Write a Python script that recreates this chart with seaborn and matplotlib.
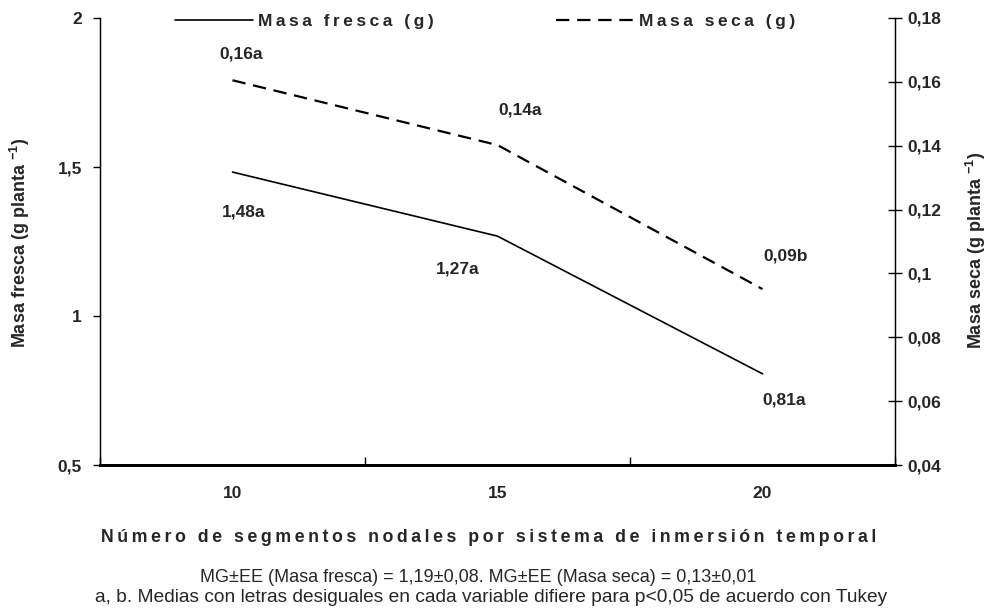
import matplotlib
matplotlib.use("Agg")
import matplotlib.pyplot as plt
import seaborn as sns
import pandas as pd
from matplotlib.ticker import FixedLocator, FuncFormatter, NullFormatter
from matplotlib.lines import Line2D

# ---- data ----
segmentos = ["10", "15", "20"]
masa_fresca = [1.483, 1.268, 0.806]
masa_seca = [0.1605, 0.1402, 0.0951]
etiquetas_fresca = ["1,48a", "1,27a", "0,81a"]
etiquetas_seca = ["0,16a", "0,14a", "0,09b"]
ticks_izq = [0.5, 1.0, 1.5, 2.0]
ticks_der = [0.04, 0.06, 0.08, 0.10, 0.12, 0.14, 0.16, 0.18]

sns.set_theme(style="white")
plt.rcParams["font.family"] = ["Liberation Sans", "DejaVu Sans"]
plt.rcParams["mathtext.fontset"] = "custom"
plt.rcParams["mathtext.rm"] = "Liberation Sans"
plt.rcParams["mathtext.bf"] = "Liberation Sans:bold"

def coma(v, pos=None):
    return ("%g" % v).replace(".", ",")

def espaciado(s):
    return "\u2009".join(s)

df = pd.DataFrame({"seg": segmentos, "fresca": masa_fresca, "seca": masa_seca})

fig = plt.figure(figsize=(9.92, 6.15), dpi=100)
ax = fig.add_axes([100/992, 1-465/615, 795/992, 447/615])
ax2 = ax.twinx()

sns.lineplot(data=df, x="seg", y="fresca", ax=ax, color="black", lw=1.2,
             sort=False)
sns.lineplot(data=df, x="seg", y="seca", ax=ax2, color="black", lw=1.6,
             sort=False, dashes=False)
ax2.lines[0].set_dashes((6, 3.5))

ax.set_xlim(-0.5, 2.5)
ax.set_ylim(0.5, 2.0)
ax2.set_ylim(0.04, 0.18)

# x ticks: marks on boundaries, labels at centres
ax.xaxis.set_major_locator(FixedLocator([-0.5, 0.5, 1.5, 2.5]))
ax.xaxis.set_major_formatter(NullFormatter())
ax.xaxis.set_minor_locator(FixedLocator([0, 1, 2]))
ax.xaxis.set_minor_formatter(FuncFormatter(lambda v, p: segmentos[int(round(v))]))
ax.tick_params(axis="x", which="major", direction="in", length=6, width=1, color="black", bottom=True)
ax.tick_params(axis="x", which="minor", length=0, pad=15, labelsize=12.5, bottom=True)
for t in ax.get_xticklabels(minor=True):
    t.set_fontweight("bold")

ax.yaxis.set_major_locator(FixedLocator(ticks_izq))
ax.yaxis.set_major_formatter(FuncFormatter(coma))
ax.tick_params(axis="y", direction="out", length=5, width=1, color="black", left=True, labelsize=12.5, pad=8)
for t in ax.get_yticklabels():
    t.set_fontweight("bold")

ax2.yaxis.set_major_locator(FixedLocator(ticks_der))
ax2.yaxis.set_major_formatter(FuncFormatter(coma))
ax2.tick_params(axis="y", direction="inout", length=10, width=1, color="black", right=True, labelsize=12.5, pad=4)
for t in ax2.get_yticklabels():
    t.set_fontweight("bold")

for a in (ax, ax2):
    a.set_xlabel("")
    a.set_ylabel("")
    for s in a.spines.values():
        s.set_color("black")
        s.set_linewidth(0.9)
    a.spines["top"].set_visible(False)
ax.spines["bottom"].set_linewidth(2.0)
ax2.spines["bottom"].set_linewidth(2.0)
ax2.grid(False)
ax.grid(False)

# data labels
off_fresca = [(11, -40), (-40, -33), (22, -26)]
off_seca = [(9, 26), (23, 35), (23, 33)]
for i, (v, lab) in enumerate(zip(masa_fresca, etiquetas_fresca)):
    ax.annotate(lab, (i, v), xytext=off_fresca[i], textcoords="offset pixels",
                ha="center", va="center", fontsize=12.5, fontweight="bold")
for i, (v, lab) in enumerate(zip(masa_seca, etiquetas_seca)):
    ax2.annotate(lab, (i, v), xytext=off_seca[i], textcoords="offset pixels",
                 ha="center", va="center", fontsize=12.5, fontweight="bold")

# axis titles
fig.text(20/992, 1-243/615, r"Masa fresca (g planta $^{\mathbf{-1}}$)", rotation=90,
         ha="center", va="center", fontsize=13, fontweight="bold")
fig.text(976/992, 1-250/615, r"Masa seca (g planta $^{\mathbf{-1}}$)", rotation=90,
         ha="center", va="center", fontsize=13, fontweight="bold")

# legend
handles = [Line2D([], [], color="black", lw=1.2),
           Line2D([], [], color="black", lw=1.6, dashes=(6, 3.5))]
fig.legend(handles, [espaciado("Masa fresca (g)"), espaciado("Masa seca (g)")],
           loc="center", bbox_to_anchor=(485/992, 1-21/615), ncol=2, frameon=False,
           handlelength=4.5, handletextpad=0.3, columnspacing=7.0,
           prop={"weight": "bold", "size": 12.5})

fig.text(489/992, 1-537/615, espaciado("Número de segmentos nodales por sistema de inmersión temporal"),
         ha="center", va="center", fontsize=12.8, fontweight="bold")
fig.text(478/992, 1-577/615, "MG±EE (Masa fresca) = 1,19±0,08. MG±EE (Masa seca) = 0,13±0,01",
         ha="center", va="center", fontsize=13)
fig.text(491/992, 1-598/615, "a, b. Medias con letras desiguales en cada variable difiere para p<0,05 de acuerdo con Tukey",
         ha="center", va="center", fontsize=13.8)

fig.savefig("out.png", dpi=100)
